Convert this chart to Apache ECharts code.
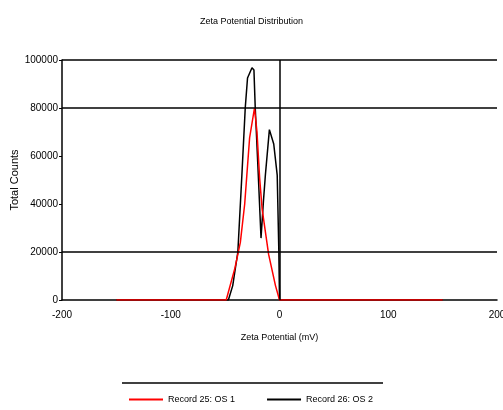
<!DOCTYPE html>
<html>
<head>
<meta charset="utf-8">
<script src="https://cdn.jsdelivr.net/npm/echarts@6/dist/echarts.min.js"></script>
<style>
  html, body { margin: 0; padding: 0; background: #fff; }
  #chart { width: 503px; height: 410px; }
</style>
</head>
<body>
<div id="chart"></div>
<script>
// zeta potential (mV) vs total counts
const redX = [-150, -49, -41, -36, -32, -27.5, -23, -20.7, -18.3, -16, -10, -3.7, 0, 150];
const redY = [0, 0, 13300, 24000, 40000, 67500, 80000, 70000, 51000, 38000, 19000, 6000, 0, 0];
const blackX = [-150, -47, -43, -38.3, -34.6, -31.5, -29.4, -25.3, -23.5, -22.3, -19.5, -17, -14.8, -13, -9.3, -5.3, -2.1, -0.6, 0, 150];
const blackY = [0, 0, 6000, 20000, 52000, 80000, 92500, 96800, 95800, 80000, 52000, 25800, 41000, 52000, 71000, 65000, 52000, 20000, 0, 0];
const seriesNames = ['Record 25: OS 1', 'Record 26: OS 2'];
const gridValues = [100000, 80000, 20000];

function pairs(xs, ys) {
  return xs.map((x, i) => [x, ys[i]]);
}

const font = 'Liberation Sans, Arial, sans-serif';
const chart = echarts.init(document.getElementById('chart'));

chart.setOption({
  animation: false,
  title: {
    text: 'Zeta Potential Distribution',
    left: 'center',
    top: 12,
    textStyle: { fontFamily: font, fontSize: 9, fontWeight: 'normal', color: '#000' }
  },
  grid: { left: 62, right: 6, top: 60, bottom: 110, outerBoundsMode: 'none' },
  legend: {
    left: 124,
    top: 390,
    icon: 'rect',
    itemWidth: 34,
    itemHeight: 2,
    itemGap: 32,
    textStyle: { fontFamily: font, fontSize: 9, color: '#000' },
    data: seriesNames
  },
  xAxis: {
    type: 'value',
    min: -200,
    max: 200,
    interval: 100,
    name: 'Zeta Potential (mV)',
    nameLocation: 'middle',
    nameGap: 33,
    nameMoveOverlap: false,
    nameTextStyle: { fontFamily: font, fontSize: 9, color: '#000' },
    axisLine: { onZero: false, lineStyle: { color: '#000', width: 1.5 } },
    axisTick: { show: false },
    axisLabel: { fontFamily: font, fontSize: 10, color: '#000', margin: 10 },
    splitLine: { show: false }
  },
  yAxis: {
    type: 'value',
    min: 0,
    max: 100000,
    interval: 20000,
    name: 'Total Counts',
    nameLocation: 'middle',
    nameGap: 42,
    nameMoveOverlap: false,
    nameTextStyle: { fontFamily: font, fontSize: 11, color: '#000' },
    axisLine: { show: true, onZero: false, lineStyle: { color: '#000', width: 1.5 } },
    axisTick: { show: true, length: 3, lineStyle: { color: '#000' } },
    axisLabel: { fontFamily: font, fontSize: 10, color: '#000', margin: 4, formatter: v => String(v) },
    splitLine: { show: false }
  },
  graphic: [{
    type: 'line',
    shape: { x1: 122, y1: 383, x2: 383, y2: 383 },
    style: { stroke: '#000', lineWidth: 1.5 }
  }],
  series: [
    {
      name: seriesNames[0],
      type: 'line',
      data: pairs(redX, redY),
      showSymbol: false,
      color: '#ff0000',
      lineStyle: { width: 1.5, color: '#ff0000' },
      z: 3
    },
    {
      name: seriesNames[1],
      type: 'line',
      data: pairs(blackX, blackY),
      showSymbol: false,
      color: '#000',
      lineStyle: { width: 1.5, color: '#000' },
      z: 2,
      markLine: {
        silent: true,
        symbol: 'none',
        label: { show: false },
        lineStyle: { color: '#000', width: 1.5, type: 'solid' },
        data: gridValues.map(v => ({ yAxis: v })).concat([{ xAxis: 0 }])
      }
    }
  ]
});
</script>
</body>
</html>
